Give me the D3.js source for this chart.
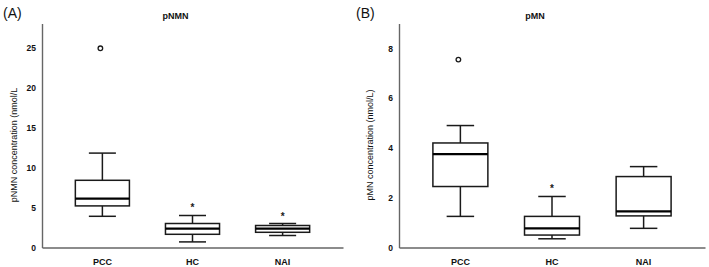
<!DOCTYPE html>
<html>
<head>
<meta charset="utf-8">
<script src="https://cdn.jsdelivr.net/npm/d3@7"></script>
<style>
  body { margin: 0; background: #fff; }
  svg { font-family: "Liberation Sans", Arial, sans-serif; }
</style>
</head>
<body>
<svg id="chart" width="709" height="267"></svg>
<script>
const groups = ["PCC", "HC", "NAI"];

// panel A: pNMN (nmol/L)
const pnmnLow    = [3.9, 0.7, 1.5];
const pnmnQ1     = [5.2, 1.65, 1.9];
const pnmnMedian = [6.1, 2.35, 2.35];
const pnmnQ3     = [8.4, 3.0, 2.75];
const pnmnHigh   = [11.8, 4.0, 3.0];
const pnmnOutlier = [24.9, null, null];   // circles
const pnmnExtreme = [null, 5.2, 4.1];     // stars
const pnmnTicks = [0, 5, 10, 15, 20, 25];

// panel B: pMN (nmol/L)
const pmnLow    = [1.25, 0.35, 0.77];
const pmnQ1     = [2.45, 0.5, 1.27];
const pmnMedian = [3.75, 0.77, 1.45];
const pmnQ3     = [4.2, 1.25, 2.85];
const pmnHigh   = [4.9, 2.05, 3.25];
const pmnOutlier = [7.55, null, null];
const pmnExtreme = [null, 2.45, null];
const pmnTicks = [0, 2, 4, 6, 8];

const svg = d3.select("#chart");

function drawPanel(opt) {
    const g = svg.append("g");

    const x = d3.scaleBand()
        .domain(groups)
        .range([opt.left, opt.right])
        .paddingInner(0.4)
        .paddingOuter(0.37);

    const y = d3.scaleLinear()
        .domain([0, opt.max])
        .range([247.5, 23.5]);

    // y axis
    const ya = g.append("g")
        .attr("transform", `translate(${opt.left},0)`)
        .call(d3.axisLeft(y).tickValues(opt.ticks).tickSize(0).tickSizeOuter(0).tickPadding(6));
    ya.select(".domain").attr("stroke", "#666").attr("stroke-width", 1.4);
    ya.selectAll("text").attr("font-size", 8.5).attr("font-weight", "bold").attr("fill", "#111");

    // x axis
    const xa = g.append("g")
        .attr("transform", `translate(0,247.5)`)
        .call(d3.axisBottom(x).tickSize(0).tickSizeOuter(0).tickPadding(11));
    xa.select(".domain").attr("stroke", "#666").attr("stroke-width", 1.4);
    xa.selectAll("text").attr("font-size", 9).attr("font-weight", "bold").attr("fill", "#111");

    const bw = x.bandwidth();
    const cx = d => x(d) + bw / 2;
    const stroke = "#1a1a1a";

    const box = g.selectAll(".box").data(groups).join("g").attr("class", "box");

    // whiskers
    box.append("line")
        .attr("x1", d => cx(d)).attr("x2", d => cx(d))
        .attr("y1", (d, i) => y(opt.high[i])).attr("y2", (d, i) => y(opt.q3[i]))
        .attr("stroke", stroke).attr("stroke-width", 1.5);
    box.append("line")
        .attr("x1", d => cx(d)).attr("x2", d => cx(d))
        .attr("y1", (d, i) => y(opt.q1[i])).attr("y2", (d, i) => y(opt.low[i]))
        .attr("stroke", stroke).attr("stroke-width", 1.5);
    // caps
    [opt.high, opt.low].forEach(arr => {
        box.append("line")
            .attr("x1", d => cx(d) - bw / 4).attr("x2", d => cx(d) + bw / 4)
            .attr("y1", (d, i) => y(arr[i])).attr("y2", (d, i) => y(arr[i]))
            .attr("stroke", stroke).attr("stroke-width", 1.5);
    });

    box.append("rect")
        .attr("x", d => x(d))
        .attr("width", bw)
        .attr("y", (d, i) => y(opt.q3[i]))
        .attr("height", (d, i) => y(opt.q1[i]) - y(opt.q3[i]))
        .attr("fill", "#fff")
        .attr("stroke", stroke).attr("stroke-width", 1.5);

    box.append("line")
        .attr("x1", d => x(d)).attr("x2", d => x(d) + bw)
        .attr("y1", (d, i) => y(opt.median[i])).attr("y2", (d, i) => y(opt.median[i]))
        .attr("stroke", "#000").attr("stroke-width", 2.2);

    // outliers
    g.selectAll(".outlier")
        .data(groups.map((d, i) => ({ g: d, v: opt.outlier[i] })).filter(d => d.v != null))
        .join("circle")
        .attr("cx", d => cx(d.g) - 2)
        .attr("cy", d => y(d.v))
        .attr("r", 2.3)
        .attr("fill", "#fff")
        .attr("stroke", stroke).attr("stroke-width", 1.3);

    g.selectAll(".extreme")
        .data(groups.map((d, i) => ({ g: d, v: opt.extreme[i] })).filter(d => d.v != null))
        .join("text")
        .attr("x", d => cx(d.g))
        .attr("y", d => y(d.v) + 5)
        .attr("text-anchor", "middle")
        .attr("font-size", 10)
        .attr("font-weight", "bold")
        .attr("fill", stroke)
        .text("*");

    // title, panel letter, y label
    g.append("text")
        .attr("x", (opt.left + opt.right) / 2 - 17)
        .attr("y", 19)
        .attr("text-anchor", "middle")
        .attr("font-size", 9)
        .attr("font-weight", "bold")
        .attr("fill", "#111")
        .text(opt.title);

    g.append("text")
        .attr("x", opt.letterX)
        .attr("y", 18)
        .attr("font-size", 14)
        .attr("fill", "#111")
        .text(opt.letter);

    g.append("text")
        .attr("transform", `translate(${opt.labelX},145) rotate(-90)`)
        .attr("text-anchor", "middle")
        .attr("font-size", 9)
        .attr("fill", "#111")
        .text(opt.ylabel);
}

drawPanel({
    left: 42, right: 343, max: 28, ticks: pnmnTicks,
    low: pnmnLow, q1: pnmnQ1, median: pnmnMedian, q3: pnmnQ3, high: pnmnHigh,
    outlier: pnmnOutlier, extreme: pnmnExtreme,
    title: "pNMN", letter: "(A)", letterX: 3, labelX: 17,
    ylabel: "pNMN concentration (nmol/L"
});

drawPanel({
    left: 399, right: 705, max: 9, ticks: pmnTicks,
    low: pmnLow, q1: pmnQ1, median: pmnMedian, q3: pmnQ3, high: pmnHigh,
    outlier: pmnOutlier, extreme: pmnExtreme,
    title: "pMN", letter: "(B)", letterX: 356, labelX: 373,
    ylabel: "pMN concentration (nmol/L)"
});
</script>
</body>
</html>
